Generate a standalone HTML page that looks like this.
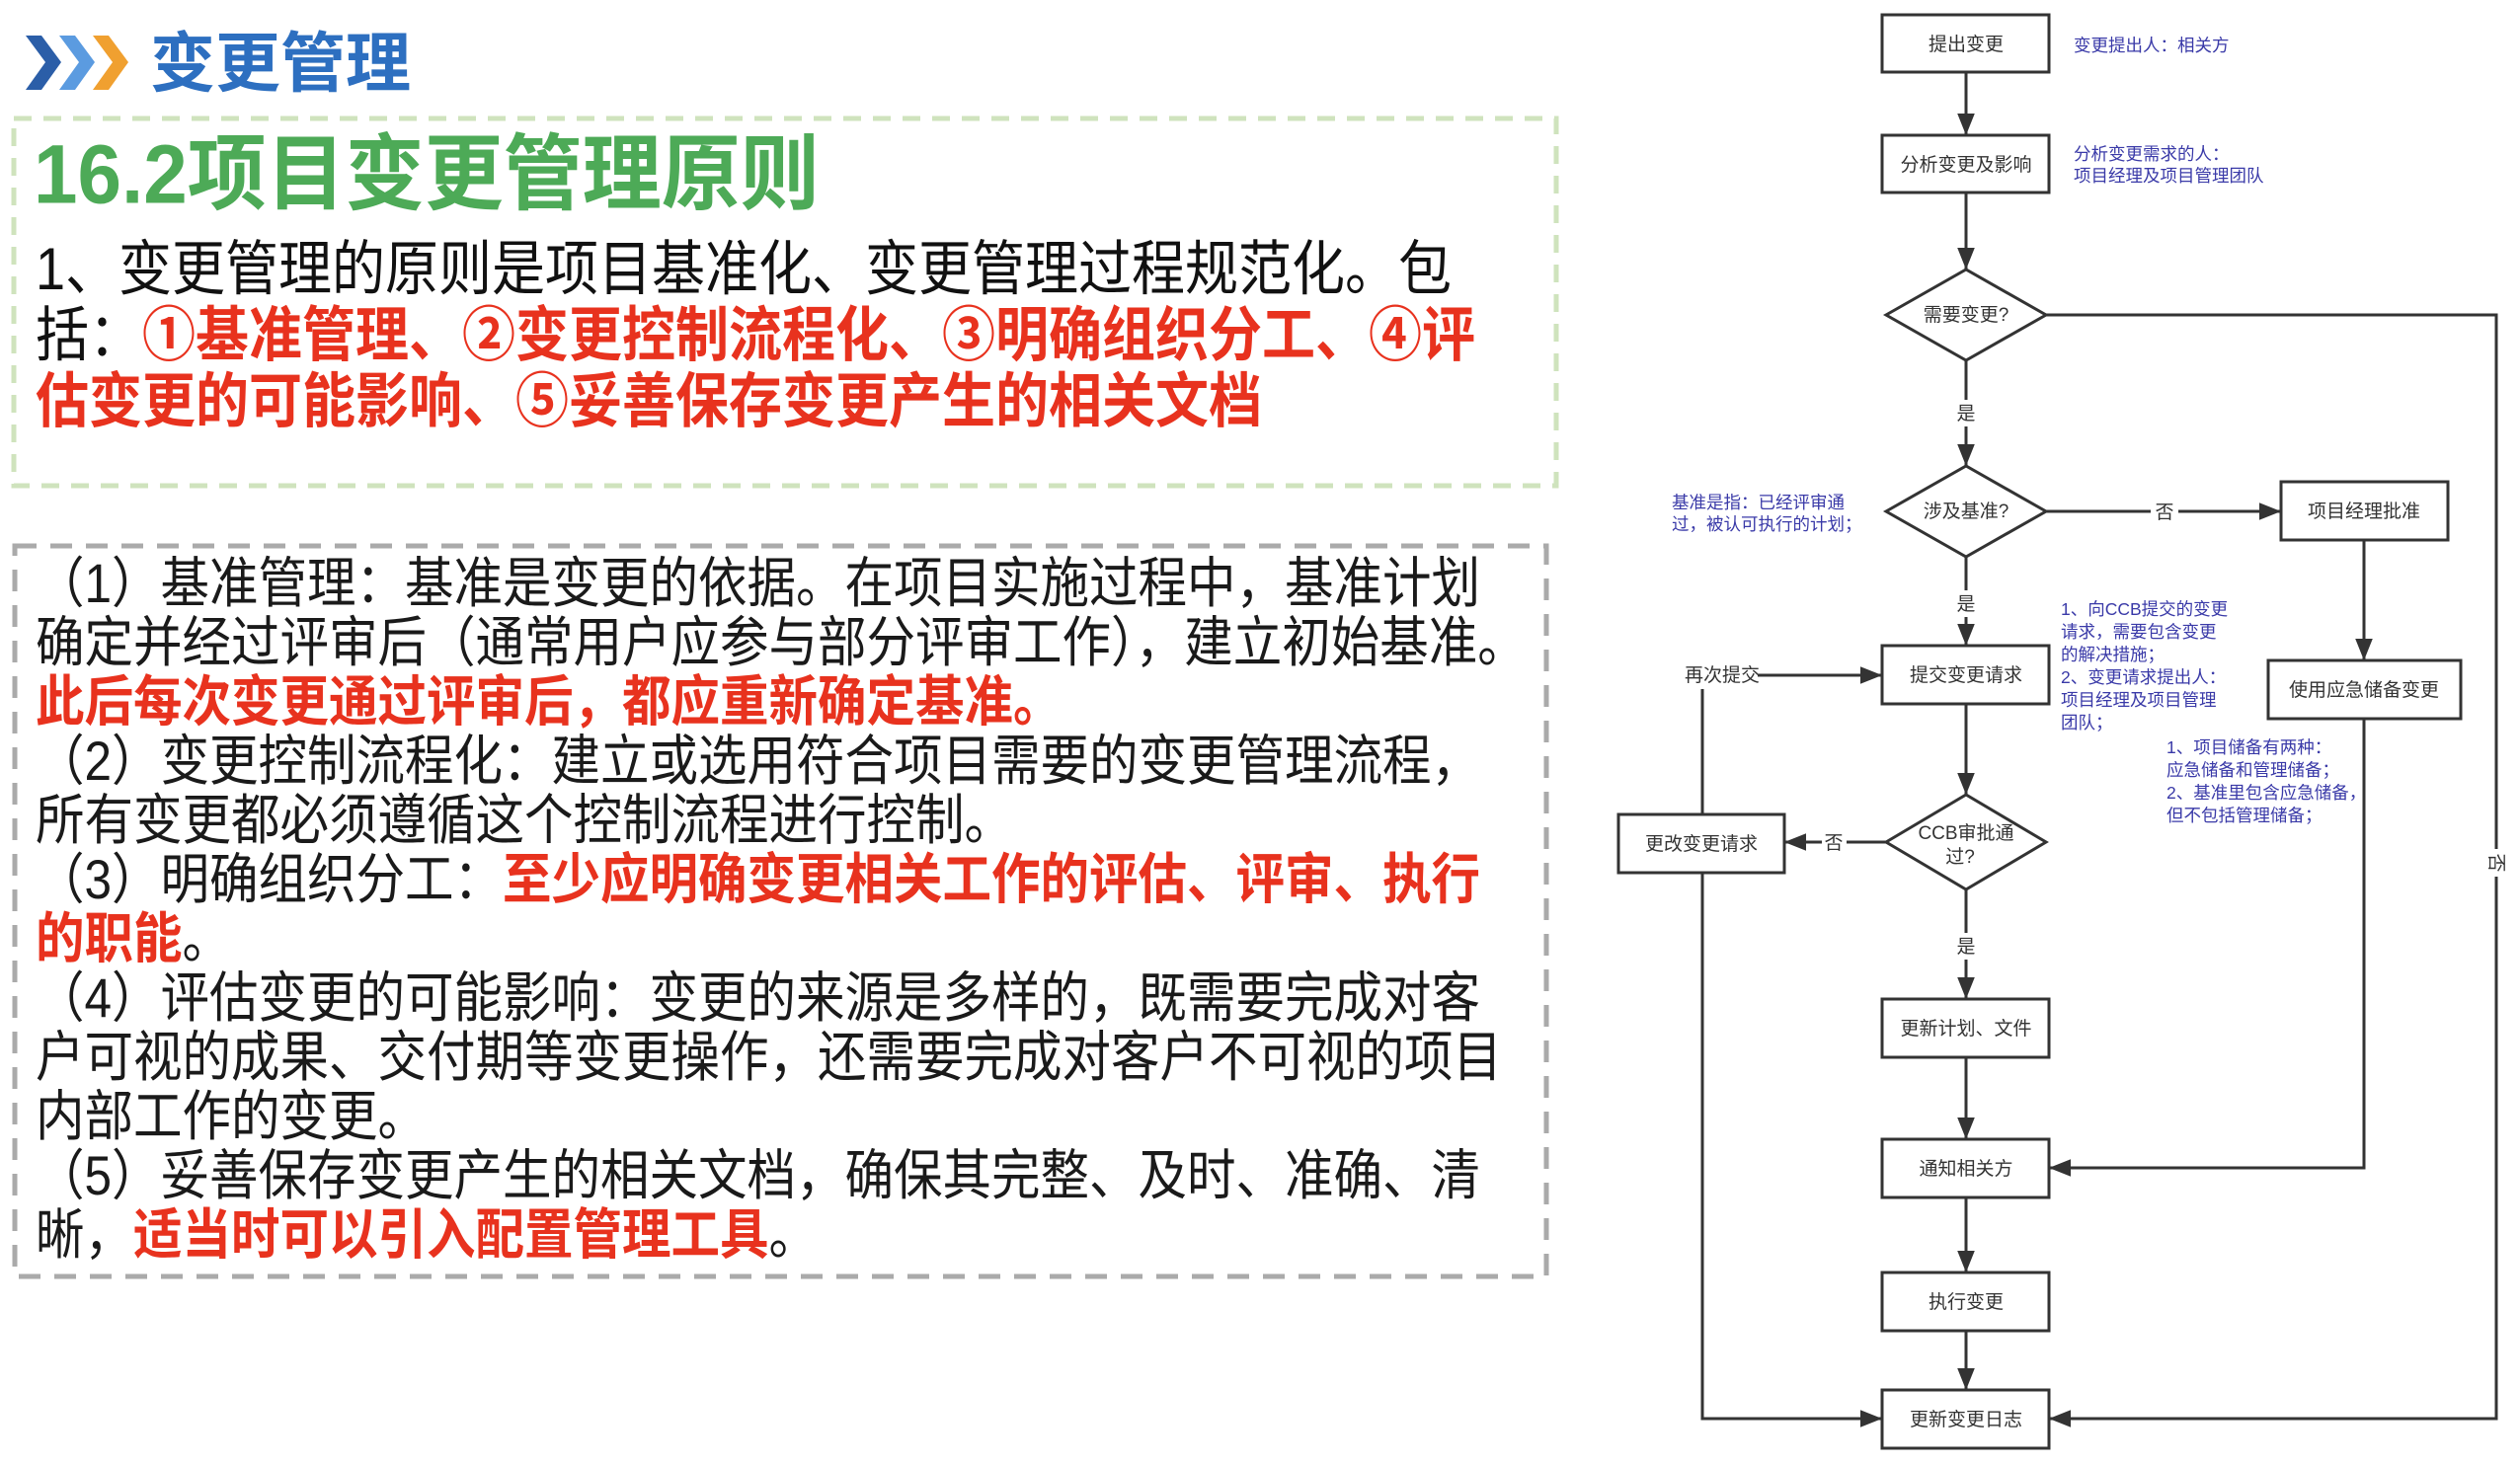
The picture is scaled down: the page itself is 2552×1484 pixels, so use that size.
<!DOCTYPE html>
<html><head><meta charset="utf-8"><style>
*{margin:0;padding:0;box-sizing:border-box}
body{width:2552px;height:1484px;background:#fff;position:relative;overflow:hidden;font-family:"Liberation Sans","Noto Sans CJK SC",sans-serif}
.t{position:absolute;white-space:nowrap;transform-origin:left center}
.b{font-size:49.5px;color:#1a1a1a;transform:scaleY(1.12);line-height:60px}
.p{font-size:54px;color:#111;transform:scaleY(1.12);line-height:67px}
.r{color:#e8321e;font-weight:bold}
.note{font-size:17.5px;color:#3a3aa8;line-height:22px;position:absolute;white-space:nowrap}
</style></head><body>
<svg style="position:absolute;left:0;top:0" width="1600" height="520">
<polygon points="26,36 42,36 62,63 42,91 26,91 46,63" fill="#2b5ea8"/>
<polygon points="60,36 76,36 96,63 76,91 60,91 80,63" fill="#5b9be0"/>
<polygon points="94,36 110,36 130,63 110,91 94,91 114,63" fill="#f0a030"/>
<rect x="14" y="120" width="1562" height="372" fill="none" stroke="#cfe3bd" stroke-width="5" stroke-dasharray="18,12"/>
</svg>
<div class="t" style="left:152px;top:24px;font-size:66px;font-weight:bold;color:#2d6fc0;line-height:80px">变更管理</div>
<div class="t" style="left:34px;top:132px;font-size:80px;font-weight:bold;color:#4daa57;line-height:90px;transform:scaleY(1.05)">16.2项目变更管理原则</div>
<div class="t p" style="left:36px;top:240px">1、变更管理的原则是项目基准化、变更管理过程规范化。包</div>
<div class="t p" style="left:36px;top:307px">括：<span class="r">①基准管理、②变更控制流程化、③明确组织分工、④评</span></div>
<div class="t p r" style="left:36px;top:374px">估变更的可能影响、⑤妥善保存变更产生的相关文档</div>
<svg style="position:absolute;left:0;top:540px" width="1600" height="780">
<rect x="15" y="13" width="1551" height="740" fill="none" stroke="#aaaaaa" stroke-width="5" stroke-dasharray="22,14"/>
</svg>
<div class="t b" style="left:36px;top:562px">（1）基准管理：基准是变更的依据。在项目实施过程中，基准计划</div>
<div class="t b" style="left:36px;top:622px">确定并经过评审后（通常用户应参与部分评审工作），建立初始基准。</div>
<div class="t b r" style="left:36px;top:682px">此后每次变更通过评审后，都应重新确定基准。</div>
<div class="t b" style="left:36px;top:742px">（2）变更控制流程化：建立或选用符合项目需要的变更管理流程，</div>
<div class="t b" style="left:36px;top:802px">所有变更都必须遵循这个控制流程进行控制。</div>
<div class="t b" style="left:36px;top:862px">（3）明确组织分工：<span class="r">至少应明确变更相关工作的评估、评审、执行</span></div>
<div class="t b" style="left:36px;top:922px"><span class="r">的职能</span>。</div>
<div class="t b" style="left:36px;top:982px">（4）评估变更的可能影响：变更的来源是多样的，既需要完成对客</div>
<div class="t b" style="left:36px;top:1042px">户可视的成果、交付期等变更操作，还需要完成对客户不可视的项目</div>
<div class="t b" style="left:36px;top:1102px">内部工作的变更。</div>
<div class="t b" style="left:36px;top:1162px">（5）妥善保存变更产生的相关文档，确保其完整、及时、准确、清</div>
<div class="t b" style="left:36px;top:1222px">晰，<span class="r">适当时可以引入配置管理工具</span>。</div>

<svg style="position:absolute;left:0;top:0" width="2552" height="1484" font-family="Liberation Sans, Noto Sans CJK SC, sans-serif" font-size="19" fill="#333">
<defs>
<marker id="A" viewBox="0 0 10 10" markerWidth="22" markerHeight="22" refX="10" refY="5" orient="auto" markerUnits="userSpaceOnUse"><path d="M0,1 L10,5 L0,9 z" fill="#333"/></marker></defs>
<g stroke="#333" stroke-width="3" fill="none" marker-end="url(#A)">
<line x1="1991" y1="73" x2="1991" y2="137"/>
<line x1="1991" y1="195" x2="1991" y2="273"/>
<path d="M1991,365 V405 M1991,432 V472"/>
<path d="M2072,518 H2178 M2206,518 H2310"/>
<path d="M1991,564 V598 M1991,625 V654"/>
<line x1="2394" y1="547" x2="2394" y2="669"/>
<path d="M1780,684 H1906"/>
<path d="M1991,713 V805"/>
<path d="M1910,853 H1870 M1845,853 H1807"/>
<path d="M1991,901 V945 M1991,972 V1012"/>
<line x1="1991" y1="1071" x2="1991" y2="1154"/>
<path d="M2394,728 V1183 H2075"/>
<line x1="1991" y1="1213" x2="1991" y2="1289"/>
<line x1="1991" y1="1348" x2="1991" y2="1408"/>
<path d="M1724,698 V1437 H1906"/>
<path d="M2072,319 H2528 V860 M2528,888 V1437 H2075"/>
</g>
<g stroke="#333" stroke-width="3" fill="#fff">
<rect x="1906" y="15" width="169" height="58"/>
<rect x="1906" y="137" width="169" height="58"/>
<polygon points="1910,319 1991,273 2072,319 1991,365"/>
<polygon points="1910,518 1991,472 2072,518 1991,564"/>
<rect x="2310" y="488" width="169" height="59"/>
<rect x="1906" y="654" width="169" height="59"/>
<rect x="2297" y="669" width="195" height="59"/>
<polygon points="1910,853 1991,805 2072,853 1991,901"/>
<rect x="1639" y="825" width="168" height="59"/>
<rect x="1906" y="1012" width="169" height="59"/>
<rect x="1906" y="1154" width="169" height="59"/>
<rect x="1906" y="1289" width="169" height="59"/>
<rect x="1906" y="1408" width="169" height="59"/>
</g>
<g text-anchor="middle">
<text x="1991" y="51">提出变更</text>
<text x="1991" y="173">分析变更及影响</text>
<text x="1991" y="325">需要变更?</text>
<text x="1991" y="425">是</text>
<text x="1991" y="524">涉及基准?</text>
<text x="2192" y="525">否</text>
<text x="2394" y="524">项目经理批准</text>
<text x="1991" y="618">是</text>
<text x="1991" y="690">提交变更请求</text>
<text x="2394" y="705">使用应急储备变更</text>
<text x="1744" y="690">再次提交</text>
<text x="1991" y="850">CCB审批通</text>
<text x="1985" y="874">过?</text>
<text x="1857" y="860">否</text>
<text x="1723" y="861">更改变更请求</text>
<text x="1991" y="965">是</text>
<text x="1991" y="1048">更新计划、文件</text>
<text x="1991" y="1190">通知相关方</text>
<text x="1991" y="1325">执行变更</text>
<text x="1991" y="1444">更新变更日志</text>
<text x="2528" y="880" transform="rotate(90 2528 874)">否</text>
</g>
</svg>
<div class="note" style="left:2100px;top:35px">变更提出人：相关方</div>
<div class="note" style="left:2100px;top:145px">分析变更需求的人：<br>项目经理及项目管理团队</div>
<div class="note" style="left:1693px;top:498px">基准是指：已经评审通<br>过，被认可执行的计划；</div>
<div class="note" style="left:2087px;top:606px;line-height:23px">1、向CCB提交的变更<br>请求，需要包含变更<br>的解决措施；<br>2、变更请求提出人：<br>项目经理及项目管理<br>团队；</div>
<div class="note" style="left:2194px;top:746px;line-height:23px">1、项目储备有两种：<br>应急储备和管理储备；<br>2、基准里包含应急储备，<br>但不包括管理储备；</div>
</body></html>
